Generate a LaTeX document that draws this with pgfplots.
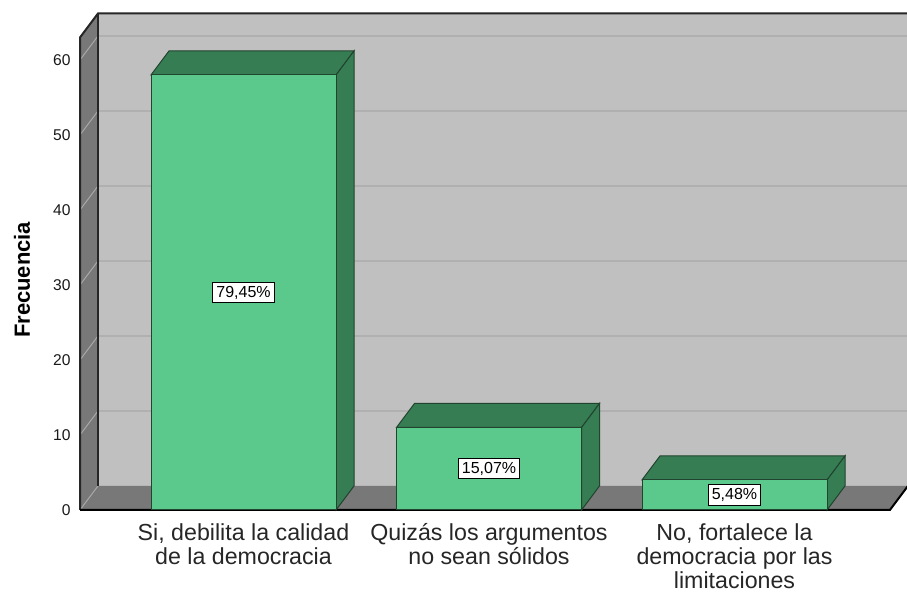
\documentclass[border=0pt]{standalone}
\usepackage{pgfplots}
\pgfplotsset{compat=1.18}
\usepackage{pgfplotstable}
\usepackage{fontspec}
\setmainfont{Liberation Sans}
\definecolor{wall}{HTML}{C0C0C0}
\definecolor{floorc}{HTML}{787878}
\definecolor{gridc}{HTML}{B0B0B0}
\definecolor{sidegrid}{HTML}{A8A8A8}
\definecolor{barfront}{HTML}{5BC98B}
\definecolor{bardark}{HTML}{377D53}
\definecolor{baredge}{HTML}{21442F}
\pgfplotstableread{
x y pct
0 58 79.45
1 11 15.07
2 4 5.48
}\data
\begin{document}
\begin{tikzpicture}
\useasboundingbox (0,0) rectangle (453.5pt,297.5pt);
\begin{axis}[
  at={(40pt,42.5pt)}, anchor=south west,
  x=122.75pt, y=3.75pt,
  xmin=-0.666, xmax=2.633, ymin=0, ymax=63,
  clip=false,
  axis line style={draw=none},
  major tick length=0pt,
  ytick={0,10,...,60},
  xtick={0,1,2},
  xticklabels={{Si, debilita la calidad\\de la democracia},{Quizás los argumentos\\no sean sólidos},{No, fortalece la\\democracia por las\\limitaciones}},
  xticklabel style={align=center, font=\fontsize{11.6}{12}\selectfont, text=black!85, inner sep=0pt, anchor=north, yshift=-6.5pt},
  yticklabel style={font=\fontsize{7.8}{9.4}\selectfont, text=black!90, inner sep=0pt, anchor=east, xshift=-4.5pt},
  /pgf/number format/assume math mode=true,
  ylabel={Frecuencia},
  ylabel style={at={(axis description cs:-0.061,0.487)}, anchor=south, rotate=0, inner sep=0pt, font=\fontsize{11}{13}\selectfont\bfseries},
]
% back wall
\addplot[fill=wall, draw=none, forget plot] coordinates {(-0.5927,3.2) (2.7063,3.2) (2.7063,66.2) (-0.5927,66.2)} -- cycle;
% left wall
\addplot[fill=floorc, draw=none, forget plot] coordinates {(-0.666,0) (-0.5927,3.2) (-0.5927,66.2) (-0.666,63)} -- cycle;
% floor
\addplot[fill=floorc, draw=none, forget plot] coordinates {(-0.666,0) (2.633,0) (2.7063,3.2) (-0.5927,3.2)} -- cycle;
% back wall grid lines
\addplot[gridc, line width=0.6pt, forget plot] coordinates {(-0.5927,13.2) (2.7063,13.2)};
\addplot[gridc, line width=0.6pt, forget plot] coordinates {(-0.5927,23.2) (2.7063,23.2)};
\addplot[gridc, line width=0.6pt, forget plot] coordinates {(-0.5927,33.2) (2.7063,33.2)};
\addplot[gridc, line width=0.6pt, forget plot] coordinates {(-0.5927,43.2) (2.7063,43.2)};
\addplot[gridc, line width=0.6pt, forget plot] coordinates {(-0.5927,53.2) (2.7063,53.2)};
\addplot[gridc, line width=0.6pt, forget plot] coordinates {(-0.5927,63.2) (2.7063,63.2)};
% left wall diagonal lines
\addplot[sidegrid, line width=0.5pt, forget plot] coordinates {(-0.666,0) (-0.5927,3.2)};
\addplot[sidegrid, line width=0.5pt, forget plot] coordinates {(-0.666,10) (-0.5927,13.2)};
\addplot[sidegrid, line width=0.5pt, forget plot] coordinates {(-0.666,20) (-0.5927,23.2)};
\addplot[sidegrid, line width=0.5pt, forget plot] coordinates {(-0.666,30) (-0.5927,33.2)};
\addplot[sidegrid, line width=0.5pt, forget plot] coordinates {(-0.666,40) (-0.5927,43.2)};
\addplot[sidegrid, line width=0.5pt, forget plot] coordinates {(-0.666,50) (-0.5927,53.2)};
\addplot[sidegrid, line width=0.5pt, forget plot] coordinates {(-0.666,60) (-0.5927,63.2)};
% frame edges
\addplot[black!85, line width=0.6pt, forget plot] coordinates {(-0.5927,3.2) (-0.5927,66.2)};
\addplot[black!85, line width=1pt, forget plot] coordinates {(-0.666,0) (-0.666,63) (-0.5927,66.2) (2.7063,66.2)};
\addplot[black, line width=1pt, forget plot] coordinates {(-0.666,0) (2.633,0) (2.7063,3.2)};
% bar 3D faces (top and side)
\addplot[fill=bardark, draw=baredge, line width=0.5pt, forget plot] coordinates {(-0.3768,58) (0.3768,58) (0.4501,61.2) (-0.3035,61.2)} -- cycle;
\addplot[fill=bardark, draw=baredge, line width=0.5pt, forget plot] coordinates {(0.3768,0) (0.3768,58) (0.4501,61.2) (0.4501,3.2)} -- cycle;
\addplot[fill=bardark, draw=baredge, line width=0.5pt, forget plot] coordinates {(0.6232,11) (1.3768,11) (1.4501,14.2) (0.6965,14.2)} -- cycle;
\addplot[fill=bardark, draw=baredge, line width=0.5pt, forget plot] coordinates {(1.3768,0) (1.3768,11) (1.4501,14.2) (1.4501,3.2)} -- cycle;
\addplot[fill=bardark, draw=baredge, line width=0.5pt, forget plot] coordinates {(1.6232,4) (2.3768,4) (2.4501,7.2) (1.6965,7.2)} -- cycle;
\addplot[fill=bardark, draw=baredge, line width=0.5pt, forget plot] coordinates {(2.3768,0) (2.3768,4) (2.4501,7.2) (2.4501,3.2)} -- cycle;
% bar fronts
\addplot[ybar, bar width=92.5pt, bar shift=0pt, fill=barfront, draw=baredge, line width=0.5pt, forget plot] table[x=x, y=y] {\data};
% data labels
\addplot[draw=none, mark=none, forget plot,
  nodes near coords={\pgfmathprintnumber[fixed, fixed zerofill, precision=2, use comma]{\pgfplotspointmeta}\%},
  point meta=\thisrow{pct},
  nodes near coords style={fill=white, draw=black, line width=0.5pt, inner sep=1.75pt, anchor=center, font=\fontsize{8}{9.6}\selectfont, text=black}]
  table[x=x, y expr=\thisrow{y}/2] {\data};
\end{axis}
\end{tikzpicture}
\end{document}
